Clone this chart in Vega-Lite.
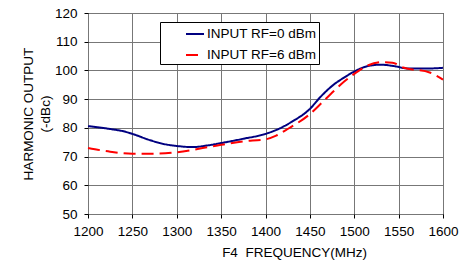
{
  "$schema": "https://vega.github.io/schema/vega-lite/v6.json",
  "width": 355,
  "height": 201,
  "autosize": "none",
  "padding": {"left": 88, "top": 13, "right": 32, "bottom": 46},
  "background": "white",
  "config": {
    "font": "Liberation Sans",
    "view": {"stroke": "black", "strokeWidth": 1},
    "axis": {
      "labelFont": "Liberation Sans",
      "titleFont": "Liberation Sans",
      "labelFontSize": 13.5,
      "titleFontSize": 13.5,
      "labelColor": "black",
      "titleColor": "black",
      "titleFontWeight": "normal",
      "gridColor": "#777777",
      "gridOpacity": 1,
      "gridWidth": 1,
      "tickColor": "black",
      "tickSize": 4,
      "domain": false,
      "labelFlush": false,
      "labelOverlap": false
    }
  },
  "data": {
    "values": [
      {"series": "INPUT RF=0 dBm", "freq": 1200, "out": 80.6},
      {"series": "INPUT RF=0 dBm", "freq": 1225, "out": 79.6},
      {"series": "INPUT RF=0 dBm", "freq": 1240, "out": 78.8},
      {"series": "INPUT RF=0 dBm", "freq": 1250, "out": 77.9},
      {"series": "INPUT RF=0 dBm", "freq": 1270, "out": 75.7},
      {"series": "INPUT RF=0 dBm", "freq": 1285, "out": 74.4},
      {"series": "INPUT RF=0 dBm", "freq": 1300, "out": 73.7},
      {"series": "INPUT RF=0 dBm", "freq": 1318, "out": 73.3},
      {"series": "INPUT RF=0 dBm", "freq": 1335, "out": 73.9},
      {"series": "INPUT RF=0 dBm", "freq": 1350, "out": 74.7},
      {"series": "INPUT RF=0 dBm", "freq": 1375, "out": 76.2},
      {"series": "INPUT RF=0 dBm", "freq": 1400, "out": 77.9},
      {"series": "INPUT RF=0 dBm", "freq": 1416, "out": 79.8},
      {"series": "INPUT RF=0 dBm", "freq": 1430, "out": 82.2},
      {"series": "INPUT RF=0 dBm", "freq": 1450, "out": 86.6},
      {"series": "INPUT RF=0 dBm", "freq": 1462, "out": 90.8},
      {"series": "INPUT RF=0 dBm", "freq": 1477, "out": 95.1},
      {"series": "INPUT RF=0 dBm", "freq": 1489, "out": 97.6},
      {"series": "INPUT RF=0 dBm", "freq": 1500, "out": 99.6},
      {"series": "INPUT RF=0 dBm", "freq": 1515, "out": 101.5},
      {"series": "INPUT RF=0 dBm", "freq": 1530, "out": 102.0},
      {"series": "INPUT RF=0 dBm", "freq": 1545, "out": 101.5},
      {"series": "INPUT RF=0 dBm", "freq": 1560, "out": 100.7},
      {"series": "INPUT RF=0 dBm", "freq": 1585, "out": 100.7},
      {"series": "INPUT RF=0 dBm", "freq": 1600, "out": 100.9},
      {"series": "INPUT RF=6 dBm", "freq": 1200, "out": 73.0},
      {"series": "INPUT RF=6 dBm", "freq": 1225, "out": 71.7},
      {"series": "INPUT RF=6 dBm", "freq": 1250, "out": 71.0},
      {"series": "INPUT RF=6 dBm", "freq": 1275, "out": 71.0},
      {"series": "INPUT RF=6 dBm", "freq": 1300, "out": 71.5},
      {"series": "INPUT RF=6 dBm", "freq": 1325, "out": 72.7},
      {"series": "INPUT RF=6 dBm", "freq": 1350, "out": 74.1},
      {"series": "INPUT RF=6 dBm", "freq": 1375, "out": 75.3},
      {"series": "INPUT RF=6 dBm", "freq": 1400, "out": 76.0},
      {"series": "INPUT RF=6 dBm", "freq": 1412, "out": 77.3},
      {"series": "INPUT RF=6 dBm", "freq": 1425, "out": 79.6},
      {"series": "INPUT RF=6 dBm", "freq": 1450, "out": 84.8},
      {"series": "INPUT RF=6 dBm", "freq": 1462, "out": 88.3},
      {"series": "INPUT RF=6 dBm", "freq": 1477, "out": 92.8},
      {"series": "INPUT RF=6 dBm", "freq": 1489, "out": 96.2},
      {"series": "INPUT RF=6 dBm", "freq": 1500, "out": 98.8},
      {"series": "INPUT RF=6 dBm", "freq": 1515, "out": 101.7},
      {"series": "INPUT RF=6 dBm", "freq": 1530, "out": 102.9},
      {"series": "INPUT RF=6 dBm", "freq": 1543, "out": 102.7},
      {"series": "INPUT RF=6 dBm", "freq": 1555, "out": 101.0},
      {"series": "INPUT RF=6 dBm", "freq": 1585, "out": 99.3},
      {"series": "INPUT RF=6 dBm", "freq": 1600, "out": 96.8}
    ]
  },
  "mark": {"type": "line", "interpolate": "monotone", "strokeWidth": 2},
  "encoding": {
    "x": {
      "field": "freq",
      "type": "quantitative",
      "scale": {"domain": [1200, 1600], "nice": false, "zero": false},
      "axis": {
        "values": [1200, 1250, 1300, 1350, 1400, 1450, 1500, 1550, 1600],
        "format": "d",
        "title": "F4\u00a0 FREQUENCY(MHz)",
        "labelPadding": 6,
        "titlePadding": 8,
        "titleX": 206
      }
    },
    "y": {
      "field": "out",
      "type": "quantitative",
      "scale": {"domain": [50, 120], "nice": false, "zero": false},
      "axis": {
        "values": [50, 60, 70, 80, 90, 100, 110, 120],
        "format": "d",
        "title": ["HARMONIC OUTPUT", "(-dBc)"],
        "titleLineHeight": 17,
        "labelPadding": 7,
        "titlePadding": 2
      }
    },
    "color": {
      "field": "series",
      "type": "nominal",
      "scale": {"domain": ["INPUT RF=0 dBm", "INPUT RF=6 dBm"], "range": ["#000080", "#ff0000"]},
      "legend": {
        "orient": "none",
        "legendX": 72,
        "legendY": 9,
        "title": null,
        "fillColor": "white",
        "strokeColor": "black",
        "padding": 2,
        "symbolOffset": 23,
        "symbolSize": 324,
        "symbolStrokeWidth": 2,
        "symbolType": "stroke",
        "labelFont": "Liberation Sans",
        "labelFontSize": 13.5,
        "labelColor": "black",
        "labelOffset": 2,
        "rowPadding": 4,
        "labelExpr": "datum.label + '        '"
      }
    },
    "strokeDash": {
      "field": "series",
      "type": "nominal",
      "scale": {"domain": ["INPUT RF=0 dBm", "INPUT RF=6 dBm"], "range": [[1, 0], [12, 6]]},
      "legend": null
    }
  }
}
